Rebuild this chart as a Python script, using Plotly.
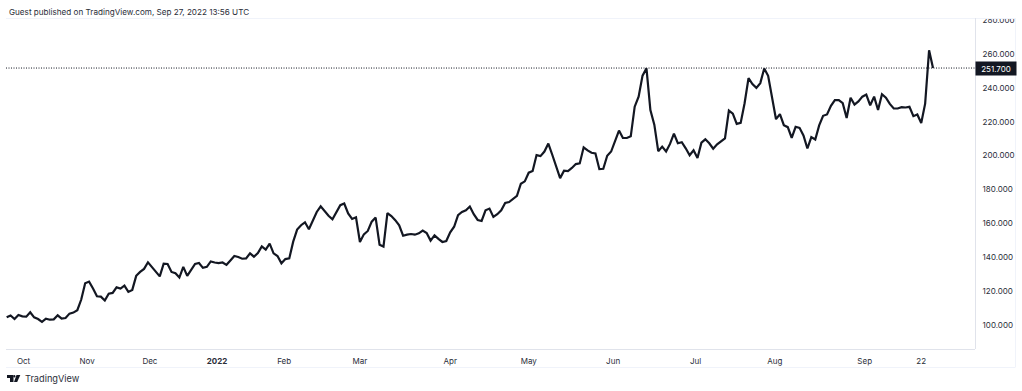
import plotly.graph_objects as go

# closing values, one per bar
close_values = [
 104.5,105.6,103.5,105.9,105.1,104.9,107.5,104.5,103.5,101.8,103.7,103.1,103.3,105.7,103.7,104.1,106.7,107.3,108.7,115.0,124.6,125.6,121.5,116.9,116.7,114.4,118.5,118.9,122.2,121.5,123.2,119.5,120.7,129.0,131.3,133.1,137.0,134.1,131.5,128.7,136.2,136.0,131.3,130.5,128.0,134.3,129.0,132.5,136.0,136.6,133.7,134.3,137.5,136.9,136.5,136.9,135.5,138.1,140.7,140.1,139.1,139.3,142.3,140.3,142.5,146.4,144.5,148.0,142.3,140.7,136.4,138.9,139.3,149.2,156.3,158.9,160.6,156.5,161.2,166.7,170.0,166.9,164.5,162.4,166.7,
 170.7,171.7,165.8,162.6,163.6,149.0,153.5,155.5,161.0,163.4,147.4,146.3,166.1,164.3,161.9,158.8,152.7,153.3,153.7,153.3,154.1,155.7,154.3,149.8,152.9,150.8,149.0,149.6,154.7,158.0,164.9,166.7,167.7,169.9,165.4,162.0,161.4,167.7,168.7,163.8,165.4,167.7,172.0,172.6,174.2,176.2,183.4,184.8,189.9,190.9,200.3,199.7,202.4,207.1,200.5,193.6,186.7,191.1,190.9,192.7,195.0,195.4,204.9,203.1,201.7,201.3,192.0,192.2,199.9,202.4,208.9,214.8,210.4,210.4,211.4,228.9,234.8,247.2,251.5,226.9,218.3,202.6,205.3,202.4,206.9,213.0,207.3,
 207.9,204.3,200.2,203.1,198.6,207.6,209.6,207.3,204.1,206.7,208.2,210.2,226.6,224.8,218.7,219.3,230.9,245.7,242.2,240.0,242.8,251.4,247.1,234.9,221.5,224.5,218.0,216.8,210.5,217.0,216.4,211.9,204.2,210.9,209.5,217.8,223.5,224.3,229.4,232.8,232.8,231.0,222.2,234.2,230.1,232.0,234.8,236.0,229.7,234.8,226.9,236.2,234.2,230.5,227.8,227.8,228.6,228.4,228.8,223.3,224.3,219.2,230.7,262.2,251.7,
]
bar_index = list(range(len(close_values)))
tick_indices = [4.3, 20.5, 36.5, 53.6, 70.7, 90, 113, 133, 154.5, 175.5, 195.7, 218.6, 233]
tick_labels = ["Oct", "Nov", "Dec", "<b>2022</b>", "Feb", "Mar", "Apr", "May", "Jun", "Jul", "Aug", "Sep", "22"]
price_ticks = [100, 120, 140, 160, 180, 200, 220, 240, 260, 280]
last_price = 251.7
caption = "Guest published on TradingView.com, Sep 27, 2022 13:56 UTC"

W, H = 1022, 391
L, R, T, B = 6, 975, 18, 349
INK = "#131722"
FONT = "Inter"
px = lambda v: (v - L) / (R - L)
py = lambda v: (B - v) / (B - T)

fig = go.Figure(go.Scatter(
    x=bar_index, y=close_values, mode="lines",
    line=dict(color=INK, width=2.2), hoverinfo="skip", showlegend=False, cliponaxis=True))


def line(x0, y0, x1, y1, color):
    return dict(type="line", xref="paper", yref="paper", x0=px(x0), y0=py(y0), x1=px(x1), y1=py(y1),
                line=dict(color=color, width=1), layer="above")


def pixel_path(points):
    return "M" + " L".join(f"{px(a):.5f},{py(b):.5f}" for a, b in points) + " Z"


shapes = [
    # hides the upper half of the clipped 280 label
    dict(type="rect", xref="paper", yref="paper", x0=px(976), x1=px(1014), y0=py(18), y1=py(0),
         fillcolor="white", line_width=0, layer="above"),
    line(L, 18.5, 1015, 18.5, "#f0f3fa"),
    line(L, 349.5, R, 349.5, "#e0e3eb"),
    line(R + .5, 18, R + .5, 349, "#e0e3eb"),
    line(L, 367.5, 1015.5, 367.5, "#f0f3fa"),
    line(1015.5, 18, 1015.5, 367, "#f0f3fa"),
    dict(type="line", xref="paper", yref="y", x0=0, x1=1, y0=last_price, y1=last_price,
         line=dict(color=INK, width=1, dash="1px,1.5px"), layer="above"),
    # TradingView logo
    dict(type="path", xref="paper", yref="paper", layer="above", fillcolor=INK, line_width=0,
         path=pixel_path([(7, 375), (13.5, 375), (13.5, 382), (10, 382), (10, 378), (7, 378)])),
    dict(type="circle", xref="paper", yref="paper", layer="above", fillcolor=INK, line_width=0,
         x0=px(13.4), x1=px(15.4), y0=py(375), y1=py(377.4)),
    dict(type="path", xref="paper", yref="paper", layer="above", fillcolor=INK, line_width=0,
         path=pixel_path([(16.5, 375), (20.3, 375), (17.2, 382), (14, 382)])),
]

annotations = [
    dict(text=caption, xref="paper", yref="paper", x=px(7), y=py(12), xanchor="left", yanchor="middle",
         showarrow=False, font=dict(family=FONT, size=8.15, color="#2a2e39")),
    dict(text="TradingView", xref="paper", yref="paper", x=px(23), y=py(379), xanchor="left", yanchor="middle",
         showarrow=False, font=dict(family=FONT, size=9.2, color="#2a2e39")),
    dict(text=f"{last_price:.3f}", xref="paper", yref="y", x=px(995.5), y=last_price,
         xanchor="center", yanchor="middle", showarrow=False, bgcolor=INK, borderpad=1,
         width=38, height=11, font=dict(family=FONT, size=8, color="white")),
]

fig.update_layout(
    width=W, height=H, autosize=False, paper_bgcolor="white", plot_bgcolor="white",
    margin=dict(l=L, r=W - R, t=T, b=H - B, pad=0),
    font=dict(family=FONT, size=8, color=INK),
    shapes=shapes, annotations=annotations,
    xaxis=dict(range=[-0.17, 246.7], tickmode="array", tickvals=tick_indices, ticktext=tick_labels,
               showgrid=False, zeroline=False, showline=False, ticks="outside", ticklen=4, tickcolor="white",
               tickfont=dict(family=FONT, size=8, color="#2a2e39")),
    yaxis=dict(range=[85.8, 281.25], side="right", tickmode="array", tickvals=price_ticks,
               ticktext=[f"{v:.3f}" for v in price_ticks],
               showgrid=False, zeroline=False, showline=False, ticks="outside", ticklen=5, tickcolor="white",
               tickfont=dict(family=FONT, size=8, color="#2a2e39")),
)

fig.write_html("out.html", config=dict(displayModeBar=False),
               post_script="document.body.style.margin='0';document.body.style.overflow='hidden';")
